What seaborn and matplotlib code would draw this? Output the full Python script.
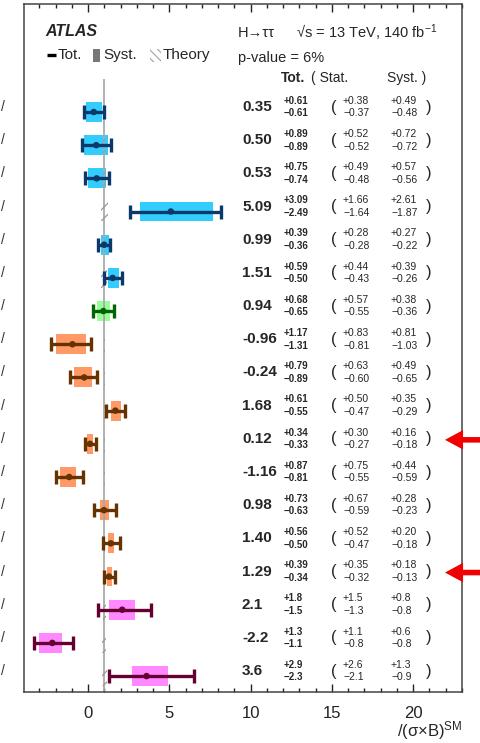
import numpy as np
import pandas as pd
import matplotlib
matplotlib.use("Agg")
import matplotlib.pyplot as plt
import matplotlib.transforms as mtransforms
from matplotlib.patches import Rectangle
from matplotlib.lines import Line2D
from matplotlib.ticker import MultipleLocator
import seaborn as sns

# ---------------- data ----------------
values  = [0.35, 0.50, 0.53, 5.09, 0.99, 1.51, 0.94, -0.96, -0.24, 1.68, 0.12, -1.16, 0.98, 1.40, 1.29, 2.1, -2.2, 3.6]
tot_up  = [0.61, 0.89, 0.75, 3.09, 0.39, 0.59, 0.68, 1.17, 0.79, 0.61, 0.34, 0.87, 0.73, 0.56, 0.39, 1.8, 1.3, 2.9]
tot_dn  = [0.61, 0.89, 0.74, 2.49, 0.36, 0.50, 0.65, 1.31, 0.89, 0.55, 0.33, 0.81, 0.63, 0.50, 0.34, 1.5, 1.1, 2.3]
stat_up = [0.38, 0.52, 0.49, 1.66, 0.28, 0.44, 0.57, 0.83, 0.63, 0.50, 0.30, 0.75, 0.67, 0.52, 0.35, 1.5, 1.1, 2.6]
stat_dn = [0.37, 0.52, 0.48, 1.64, 0.28, 0.43, 0.55, 0.81, 0.60, 0.47, 0.27, 0.55, 0.59, 0.47, 0.32, 1.3, 0.8, 2.1]
syst_up = [0.49, 0.72, 0.57, 2.61, 0.27, 0.39, 0.38, 0.81, 0.49, 0.35, 0.16, 0.44, 0.28, 0.20, 0.18, 0.8, 0.6, 1.3]
syst_dn = [0.48, 0.72, 0.56, 1.87, 0.22, 0.26, 0.36, 1.03, 0.65, 0.29, 0.18, 0.59, 0.23, 0.18, 0.13, 0.8, 0.8, 0.9]
theory  = [0.06, 0.06, 0.08, 0.22, 0.04, 0.18, 0.04, 0.03, 0.03, 0.03, 0.03, 0.03, 0.03, 0.03, 0.03, 0.08, 0.12, 0.15]
decimals = [2] * 15 + [1] * 3
groups  = ["ggF"] * 6 + ["VBF"] + ["VH"] * 8 + ["ttH"] * 3
arrow_rows = [10, 14]

box_colors  = {"ggF": "#33ccff", "VBF": "#99ff99", "VH": "#ff9966", "ttH": "#ff88ff"}
line_colors = {"ggF": "#0b3a6a", "VBF": "#006600", "VH": "#663300", "ttH": "#660033"}

rows = list(range(len(values)))
df = pd.DataFrame({"row": rows, "value": values, "group": groups})

# ---------------- style ----------------
sns.set_style("ticks")
plt.rcParams["font.family"] = ["Liberation Sans", "DejaVu Sans"]
plt.rcParams["mathtext.fontset"] = "custom"
plt.rcParams["mathtext.rm"] = "Liberation Sans"
plt.rcParams["mathtext.it"] = "Liberation Sans:italic"
plt.rcParams["mathtext.bf"] = "Liberation Sans:bold"
plt.rcParams["hatch.linewidth"] = 0.9

W, H = 480, 743
fig = plt.figure(figsize=(W / 100, H / 100), dpi=100)
ax = fig.add_axes([24 / W, (H - 692) / H, 438 / W, 688 / H])

# pixel -> axes fraction helpers
def fx(px):
    return (px - 24) / 438

def fy(py):
    return (692 - py) / 688

# SM reference line
ax.plot([1, 1], [-1.0, 17.6], color="#aaaaaa", lw=1.3, zorder=2.5, solid_capstyle="butt")

# systematic boxes
for g in box_colors:
    idx = [i for i in rows if groups[i] == g]
    ax.barh([rows[i] for i in idx],
            [syst_up[i] + syst_dn[i] for i in idx],
            left=[values[i] - syst_dn[i] for i in idx],
            height=0.6, color=box_colors[g], linewidth=0, zorder=2)

# theory hatched bands
ax.barh(rows, [2 * t for t in theory], left=[1 - t for t in theory], height=0.6,
        fill=False, hatch="///", edgecolor="#999999", linewidth=0, zorder=2.6)

# total error bars
for g in line_colors:
    idx = [i for i in rows if groups[i] == g]
    ax.errorbar([values[i] for i in idx], [rows[i] for i in idx],
                xerr=[[tot_dn[i] for i in idx], [tot_up[i] for i in idx]],
                fmt="none", ecolor=line_colors[g], elinewidth=2.4,
                capsize=5, capthick=2.4, zorder=3)

sns.scatterplot(data=df, x="value", y="row", hue="group", palette=line_colors,
                s=22, linewidth=0, legend=False, ax=ax, zorder=4)

# ---------------- axes ----------------
ax.set_xlim(-3.94, 23.0)
ax.set_ylim(17.48, -3.255)
ax.set_yticks([])
ax.set_xlabel("")
ax.set_ylabel("")
ax.xaxis.set_major_locator(MultipleLocator(5))
ax.xaxis.set_minor_locator(MultipleLocator(1))
ax.tick_params(axis="x", which="both", direction="in", top=True, bottom=True,
               labelsize=12, pad=10, colors="#222222", width=1.0)
ax.tick_params(axis="x", which="major", length=6)
ax.tick_params(axis="x", which="minor", length=3)
for s in ax.spines.values():
    s.set_linewidth(1.1)
    s.set_color("#444444")

# ---------------- per-row text ----------------
tr = mtransforms.blended_transform_factory(ax.transAxes, ax.transData)
toff = -0.15
for i in rows:
    d = decimals[i]
    y = rows[i] + toff
    ax.text(fx(242), y, f"{values[i]:.{d}f}", transform=tr, fontsize=11,
            fontweight="bold", ha="left", va="center")
    ax.text(fx(284), y - 0.19, f"+{tot_up[i]:.{d}f}", transform=tr, fontsize=7,
            fontweight="bold", ha="left", va="center")
    ax.text(fx(284), y + 0.19, f"\u2212{tot_dn[i]:.{d}f}", transform=tr, fontsize=7,
            fontweight="bold", ha="left", va="center")
    ax.text(fx(331), y, "(", transform=tr, fontsize=12, ha="left", va="center")
    ax.text(fx(343), y - 0.19, f"+{stat_up[i]:.{d}f}", transform=tr, fontsize=7.5,
            ha="left", va="center")
    ax.text(fx(343), y + 0.19, f"\u2212{stat_dn[i]:.{d}f}", transform=tr, fontsize=7.5,
            ha="left", va="center")
    ax.text(fx(391), y - 0.19, f"+{syst_up[i]:.{d}f}", transform=tr, fontsize=7.5,
            ha="left", va="center")
    ax.text(fx(391), y + 0.19, f"\u2212{syst_dn[i]:.{d}f}", transform=tr, fontsize=7.5,
            ha="left", va="center")
    ax.text(fx(426), y, ")", transform=tr, fontsize=12, ha="left", va="center")
    # visible remnant of the cropped row labels at the far left
    ax.text(fx(1), y, "/", transform=tr, fontsize=10, ha="left", va="center",
            color="#333333", clip_on=False)

# header
ax.text(fx(281), -1.02, "Tot.", transform=tr, fontsize=10, fontweight="bold",
        ha="left", va="center")
ax.text(fx(311), -1.02, "( Stat.", transform=tr, fontsize=10, ha="left", va="center")
ax.text(fx(387), -1.02, "Syst. )", transform=tr, fontsize=10, ha="left", va="center")

# red arrows
for r in arrow_rows:
    ya = r - 0.12
    ax.annotate("", xy=(fx(445), ya), xycoords=tr, xytext=(fx(482), ya), textcoords=tr,
                arrowprops=dict(facecolor="#f00000", edgecolor="none", width=4,
                                headwidth=14, headlength=13, shrink=0),
                annotation_clip=False)

# ---------------- top labels ----------------
ax.text(fx(45), fy(32), "ATLAS", transform=ax.transAxes, fontsize=11.5,
        fontweight="bold", fontstyle="italic", ha="left", va="center")
# legend glyphs
ax.add_line(Line2D([fx(46.5), fx(56)], [fy(55), fy(55)], transform=ax.transAxes,
                   color="black", lw=2.4, solid_capstyle="butt"))
ax.text(fx(58), fy(55), "Tot.", transform=ax.transAxes, fontsize=11, ha="left", va="center")
ax.add_patch(Rectangle((fx(93), fy(62)), fx(100) - fx(93), fy(49) - fy(62),
                       transform=ax.transAxes, facecolor="#777777", edgecolor="none"))
ax.text(fx(103), fy(55), "Syst.", transform=ax.transAxes, fontsize=11, ha="left", va="center")
ax.add_patch(Rectangle((fx(150), fy(62)), fx(161) - fx(150), fy(49) - fy(62),
                       transform=ax.transAxes, fill=False, hatch="\\\\\\\\",
                       edgecolor="#aaaaaa", linewidth=0))
ax.text(fx(163), fy(55), "Theory", transform=ax.transAxes, fontsize=11, ha="left", va="center")

ax.text(fx(238), fy(33), "H\u2192\u03c4\u03c4", transform=ax.transAxes, fontsize=10.5,
        ha="left", va="center")
ax.text(fx(296), fy(33), "\u221as = 13 TeV, 140 fb$^{-1}$", transform=ax.transAxes,
        fontsize=10.5, ha="left", va="center")
ax.text(fx(238), fy(58), "p-value = 6%", transform=ax.transAxes, fontsize=10.5,
        ha="left", va="center")

# x-axis label (cut off on the left in the reference)
fig.text(462 / W, (H - 731) / H, "/(\u03c3\u00d7B)$^{\\mathrm{SM}}$", fontsize=12,
         ha="right", va="center")

fig.savefig("out.png", dpi=100)
